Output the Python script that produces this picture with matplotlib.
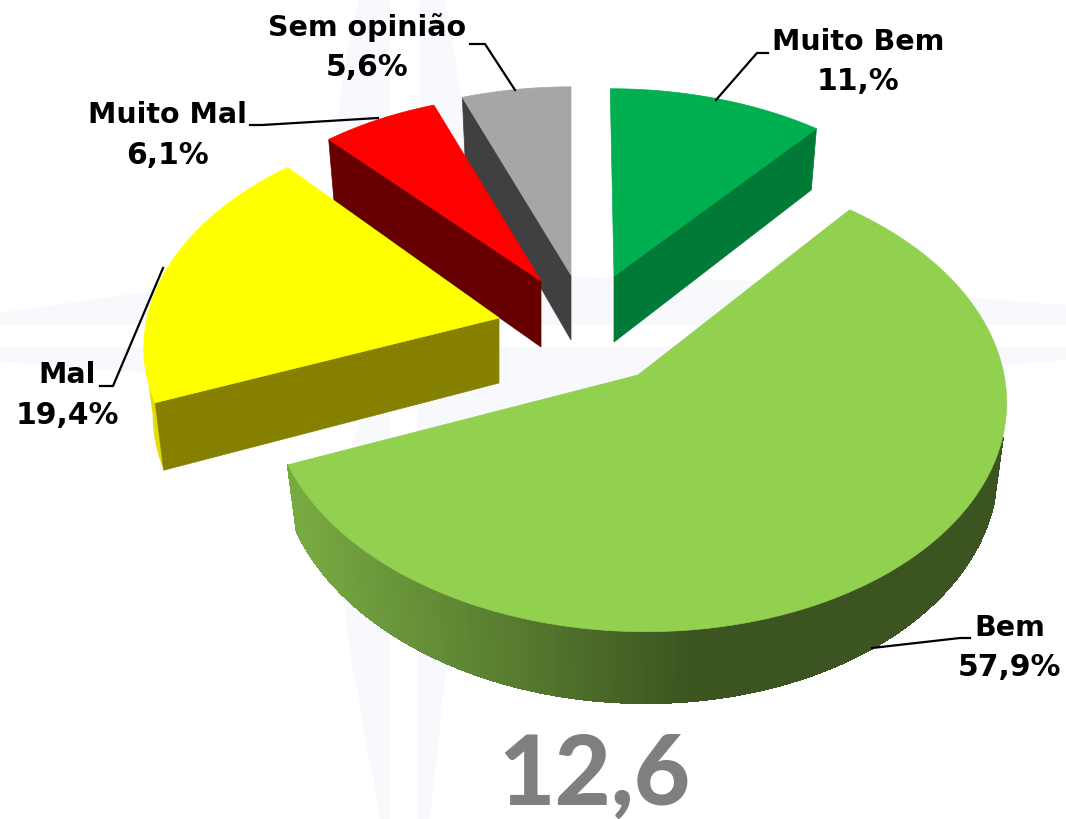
import matplotlib
matplotlib.use('Agg')
import matplotlib.pyplot as plt
from matplotlib.patches import Polygon
from matplotlib.colors import to_rgb
import numpy as np

# data
categories = ['Muito Bem', 'Bem', 'Mal', 'Muito Mal', 'Sem opinião']
values = [11.0, 57.9, 19.4, 6.1, 5.6]
value_labels = ['11,%', '57,9%', '19,4%', '6,1%', '5,6%']
footer_value = '12,6'

# layout in image pixels
top_colors = ['#00b050', '#92d050', '#ffff00', '#ff0000', '#a6a6a6']
wall_colors = ['#007a37', '#3c5520', '#858000', '#660000', '#404040']
apex = [(614, 276), (638, 375), (499, 318), (541, 281), (571, 275)]
radius_x = [347, 366, 352, 340, 345]
radius_y = [206, 231, 218, 205, 207]
shear = [0.02, 0.03, -0.055, 0.0, 0.0]
depth = [66, 64, 65, 66, 65]
label_pos = [(858, 42), (1010, 628), (67, 375), (167, 115), (367, 28)]
leaders = [
    [(716, 100), (757, 53), (768, 53)],
    [(872, 648), (960, 638), (970, 638)],
    [(163, 268), (113, 386), (100, 386)],
    [(378, 118), (262, 125), (250, 125)],
    [(515, 90), (485, 44), (470, 44)],
]
draw_order = [0, 4, 3, 2, 1]
persp = 0.1
wall_shrink = 0.975

# faint star behind the pie
star_color = '#f7f9fd'
star_arms = [
    [(390, 0), (358, 0), (343, 70), (320, 280), (390, 325)],
    [(420, 0), (445, 0), (457, 70), (490, 275), (420, 325)],
    [(390, 347), (330, 500), (352, 665), (380, 819), (390, 819)],
    [(417, 347), (417, 819), (430, 819), (447, 665), (470, 500)],
    [(0, 313), (140, 293), (320, 280), (390, 325), (0, 325)],
    [(0, 347), (390, 347), (330, 400), (140, 372), (0, 362)],
    [(420, 325), (490, 275), (740, 280), (1066, 305), (1066, 325)],
    [(417, 347), (1066, 347), (1066, 360), (700, 390), (470, 500)],
]


def rim_point(i, theta, lower=False):
    w = 1 / (1 + persp * np.cos(theta))
    dy = -radius_y[i] * np.cos(theta) * w
    dx = radius_x[i] * np.sin(theta) * w
    if lower:
        return apex[i][0] + dx * wall_shrink + shear[i] * dy, apex[i][1] + dy + depth[i] * w
    return apex[i][0] + dx + shear[i] * dy, apex[i][1] + dy


def mix(c1, c2, t):
    c1, c2 = np.array(to_rgb(c1)), np.array(to_rgb(c2))
    return tuple(c1 + (c2 - c1) * t)


fig = plt.figure(figsize=(10.66, 8.19), dpi=100)
ax = fig.add_axes([0, 0, 1, 1])
ax.set_xlim(0, 1066)
ax.set_ylim(819, 0)
ax.axis('off')

for arm in star_arms:
    ax.add_patch(Polygon(arm, closed=True, fc=star_color, ec='none', zorder=0))

edges = np.radians(np.concatenate([[0], np.cumsum(values)]) * 3.6)

for n, i in enumerate(draw_order):
    start, end = edges[i], edges[i + 1]
    ts = np.linspace(start, end, 500)
    z = 2 + n
    ax_pt = apex[i]

    # outer wall, only the part facing the viewer
    if i == 1:
        # gradient along the rim
        for a, b in zip(ts[:-1], ts[1:]):
            if a < np.radians(105):
                continue
            t = np.clip((690 - rim_point(i, a)[0]) / 395, 0, 1)
            col = mix('#3c5520', '#78aa42', t)
            quad = [rim_point(i, a), rim_point(i, b), rim_point(i, b, True), rim_point(i, a, True)]
            ax.add_patch(Polygon(quad, closed=True, fc=col, ec=col, lw=1.2, antialiased=False, zorder=z))
    elif i == 2:
        outer = np.linspace(start, np.radians(262), 20)
        pts = [rim_point(i, a) for a in outer] + [rim_point(i, a, True) for a in outer[::-1]]
        ax.add_patch(Polygon(pts, closed=True, fc='#e6dc00', ec='none', zorder=z))

    # cut face
    if i == 0:
        cut = end
    elif i in (2, 3, 4):
        cut = start
    else:
        cut = None
    if cut is not None:
        low_apex = (ax_pt[0], ax_pt[1] + depth[i])
        wall = [ax_pt, rim_point(i, cut), rim_point(i, cut, True), low_apex]
        ax.add_patch(Polygon(wall, closed=True, fc=wall_colors[i], ec=wall_colors[i], lw=0.5, zorder=z))

    # top face
    top = [ax_pt] + [rim_point(i, a) for a in ts]
    ax.add_patch(Polygon(top, closed=True, fc=top_colors[i], ec=top_colors[i], lw=0.5, zorder=z + 0.5))

for i, name in enumerate(categories):
    x, y = label_pos[i]
    ax.text(x, y, name, ha='center', va='center', fontsize=20.5, fontweight='bold',
            color='black', zorder=20)
    ax.text(x, y + 40, value_labels[i], ha='center', va='center', fontsize=21.5, fontweight='bold',
            color='black', zorder=20)
    xs, ys = zip(*leaders[i])
    ax.plot(xs, ys, color='black', lw=1.6, zorder=15, solid_joinstyle='miter')

ax.text(594, 805, footer_value, ha='center', va='baseline', fontsize=70, fontweight='black',
        family='Lato', color='#7f7f7f', zorder=20)

fig.savefig('out.png', dpi=100)
